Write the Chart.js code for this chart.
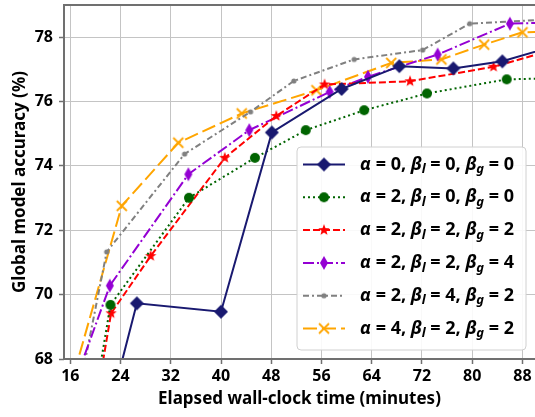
<!DOCTYPE html>
<html>
<head>
<meta charset="utf-8">
<script src="https://cdn.jsdelivr.net/npm/chart.js@4.4.1/dist/chart.umd.min.js"></script>
<style>
  html, body { margin: 0; padding: 0; background: #fff; }
  #wrap { width: 535px; height: 417px; position: relative; }
</style>
</head>
<body>
<div id="wrap"><canvas id="acc-chart"></canvas></div>
<script>
// tick labels
const xTicks = [16, 24, 32, 40, 48, 56, 64, 72, 80, 88];
const yTicks = [68, 70, 72, 74, 76, 78];

// (alpha, beta_l, beta_g) per run
const runParams = [[0, 0, 0], [2, 0, 0], [2, 2, 2], [2, 2, 4], [2, 4, 2], [4, 2, 2]];

// elapsed time (min) / accuracy (%) per run
const time000 = [23.0, 26.6, 40.0, 48.1, 59.2, 68.4, 77.0, 84.8, 92.0];
const acc000 = [67.0, 69.73, 69.47, 75.04, 76.39, 77.10, 77.03, 77.25, 77.66];

const time200 = [20.1, 22.4, 34.9, 45.4, 53.5, 62.8, 72.8, 85.5, 92.0];
const acc200 = [67.0, 69.68, 73.01, 74.25, 75.11, 75.73, 76.25, 76.69, 76.72];

const time222 = [20.4, 22.5, 28.8, 40.6, 48.8, 56.5, 70.1, 83.4, 92.0];
const acc222 = [67.0, 69.42, 71.20, 74.25, 75.55, 76.53, 76.63, 77.08, 77.56];

const time224 = [16.2, 22.3, 34.8, 44.5, 57.3, 63.4, 74.5, 86.0, 92.0];
const acc224 = [67.0, 70.28, 73.74, 75.11, 76.30, 76.77, 77.46, 78.42, 78.45];

const time242 = [17.4, 21.8, 34.2, 44.7, 51.6, 61.2, 72.1, 79.6, 92.0];
const acc242 = [67.0, 71.33, 74.37, 75.68, 76.64, 77.31, 77.60, 78.42, 78.55];

const time422 = [15.8, 24.2, 33.2, 43.3, 55.2, 67.1, 75.1, 81.9, 88.0, 92.0];
const acc422 = [67.0, 72.76, 74.72, 75.63, 76.35, 77.20, 77.31, 77.77, 78.15, 78.17];

const FONT = '"Noto Sans", "DejaVu Sans", sans-serif';

function makeMarker(kind, color) {
  const s = 20, c = 10;
  const cv = document.createElement('canvas');
  cv.width = s; cv.height = s;
  const g = cv.getContext('2d');
  g.fillStyle = color;
  g.strokeStyle = color;
  g.beginPath();
  if (kind === 'diamond') {
    g.moveTo(c, c - 7); g.lineTo(c + 7, c); g.lineTo(c, c + 7); g.lineTo(c - 7, c);
    g.closePath(); g.fill();
  } else if (kind === 'thin') {
    g.moveTo(c, c - 7); g.lineTo(c + 4, c); g.lineTo(c, c + 7); g.lineTo(c - 4, c);
    g.closePath(); g.fill();
  } else if (kind === 'circle') {
    g.arc(c, c, 5, 0, Math.PI * 2); g.fill();
  } else if (kind === 'dot') {
    g.arc(c, c, 2.6, 0, Math.PI * 2); g.fill();
  } else if (kind === 'star') {
    for (let i = 0; i < 10; i++) {
      const r = i % 2 === 0 ? 6 : 2.5;
      const a = -Math.PI / 2 + i * Math.PI / 5;
      const px = c + r * Math.cos(a), py = c + r * Math.sin(a);
      if (i === 0) g.moveTo(px, py); else g.lineTo(px, py);
    }
    g.closePath(); g.fill();
  } else if (kind === 'x') {
    g.lineWidth = 1.8;
    g.moveTo(c - 5, c - 5); g.lineTo(c + 5, c + 5);
    g.moveTo(c + 5, c - 5); g.lineTo(c - 5, c + 5);
    g.stroke();
  }
  return cv;
}

const styles = [
  { color: '#191970', dash: [], marker: 'diamond' },
  { color: '#006400', dash: [2, 3], marker: 'circle' },
  { color: '#ff0000', dash: [7, 3], marker: 'star' },
  { color: '#9400d3', dash: [11, 3, 2, 3], marker: 'thin' },
  { color: '#808080', dash: [6, 3, 2, 3], marker: 'dot' },
  { color: '#ffa500', dash: [14, 5], marker: 'x' }
];

const series = [
  [time000, acc000], [time200, acc200], [time222, acc222],
  [time224, acc224], [time242, acc242], [time422, acc422]
];

const datasets = series.map((s, i) => {
  const st = styles[i];
  const img = makeMarker(st.marker, st.color);
  st.img = img;
  return {
    label: runParams[i].join(','),
    data: s[0].map((t, k) => ({ x: t, y: s[1][k] })),
    borderColor: st.color,
    backgroundColor: st.color,
    borderWidth: 2,
    borderDash: st.dash,
    pointStyle: img,
    pointRadius: 6,
    tension: 0
  };
});

const framePlugin = {
  id: 'frame',
  afterDatasetsDraw(chart) {
    const { ctx, chartArea: a } = chart;
    ctx.save();
    ctx.strokeStyle = '#707070';
    ctx.lineWidth = 2;
    ctx.strokeRect(a.left, a.top, a.right - a.left + 2, a.bottom - a.top);
    ctx.restore();
  }
};

function drawLabel(ctx, x, y, p) {
  const parts = [
    ['α', 'it'], [' = ' + p[0] + ', ', 'rm'],
    ['β', 'it'], ['l', 'sub'], [' = ' + p[1] + ', ', 'rm'],
    ['β', 'it'], ['g', 'sub'], [' = ' + p[2], 'rm']
  ];
  ctx.fillStyle = '#000';
  ctx.textBaseline = 'middle';
  ctx.textAlign = 'left';
  for (const [txt, kind] of parts) {
    if (kind === 'rm') ctx.font = 'bold 18px ' + FONT;
    else if (kind === 'it') ctx.font = 'italic bold 18px ' + FONT;
    else ctx.font = 'italic bold 13px ' + FONT;
    ctx.fillText(txt, x, kind === 'sub' ? y + 5 : y);
    x += ctx.measureText(txt).width;
  }
}

const legendPlugin = {
  id: 'mathLegend',
  afterDraw(chart) {
    const ctx = chart.ctx;
    const bx = 297, by = 147, bw = 229, bh = 203;
    ctx.save();
    ctx.beginPath();
    ctx.roundRect(bx, by, bw, bh, 4);
    ctx.fillStyle = 'rgba(255,255,255,0.9)';
    ctx.fill();
    ctx.strokeStyle = '#d0d0d0';
    ctx.lineWidth = 1;
    ctx.stroke();
    styles.forEach((st, i) => {
      const y = 164.5 + i * 32.8;
      ctx.beginPath();
      ctx.setLineDash(st.dash);
      ctx.strokeStyle = st.color;
      ctx.lineWidth = 2;
      ctx.moveTo(303, y);
      ctx.lineTo(345, y);
      ctx.stroke();
      ctx.setLineDash([]);
      ctx.drawImage(st.img, 324 - 10, y - 10);
      drawLabel(ctx, 360, y, runParams[i]);
    });
    ctx.restore();
  }
};

new Chart(document.getElementById('acc-chart'), {
  type: 'line',
  data: { datasets: datasets },
  options: {
    responsive: true,
    maintainAspectRatio: false,
    animation: false,
    events: [],
    layout: { autoPadding: false, padding: { top: 5, right: 0, left: 0, bottom: 0 } },
    plugins: { legend: { display: false }, tooltip: { enabled: false } },
    scales: {
      x: {
        type: 'linear',
        min: 15,
        max: 90,
        afterBuildTicks: (scale) => { scale.ticks = xTicks.map(v => ({ value: v })); },
        afterFit: (scale) => { scale.height = 58; scale.paddingLeft = 0; scale.paddingRight = 0; },
        ticks: { color: '#000', font: { family: FONT, size: 16, weight: 'bold' }, padding: 3, maxRotation: 0 },
        grid: { color: '#c4c4c4', lineWidth: 1, borderDash: [1, 2], tickColor: '#707070', tickBorderDash: [], tickWidth: 1.5, tickLength: 5 },
        border: { display: false },
        title: { display: true, text: 'Elapsed wall-clock time (minutes)', color: '#000', font: { family: FONT, size: 17, weight: 'bold' }, padding: 8 }
      },
      y: {
        type: 'linear',
        min: 68,
        max: 79,
        afterBuildTicks: (scale) => { scale.ticks = yTicks.map(v => ({ value: v })); },
        afterFit: (scale) => { scale.width = 64; scale.paddingTop = 0; scale.paddingBottom = 0; },
        ticks: { color: '#000', font: { family: FONT, size: 16, weight: 'bold' }, padding: 6 },
        grid: { color: '#c4c4c4', lineWidth: 1, borderDash: [1, 2], tickColor: '#707070', tickBorderDash: [], tickWidth: 1.5, tickLength: 5 },
        border: { display: false },
        title: { display: true, text: 'Global model accuracy (%)', color: '#000', font: { family: FONT, size: 17, weight: 'bold' }, padding: 10 }
      }
    }
  },
  plugins: [framePlugin, legendPlugin]
});
</script>
</body>
</html>
